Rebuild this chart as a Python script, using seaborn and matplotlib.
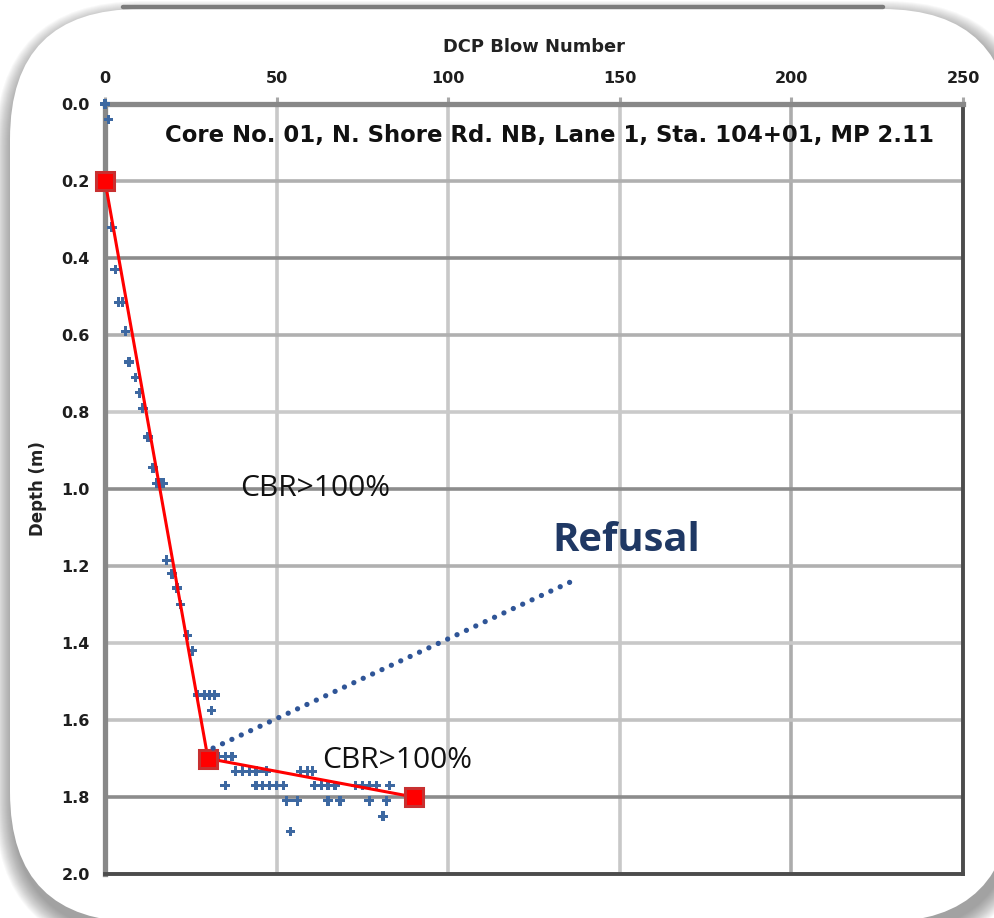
import matplotlib
matplotlib.use("Agg")
import matplotlib.pyplot as plt
import seaborn as sns
from matplotlib.patches import FancyBboxPatch
from matplotlib.lines import Line2D
from matplotlib.ticker import FormatStrFormatter

# ---------------- data ----------------
blows = [0, 1, 2, 3, 4, 5, 6, 7, 9, 10, 11, 12.5, 14, 15, 16, 17,
         18, 19.5, 21, 22, 24, 25.5, 27, 29, 30.5, 32, 31,
         33, 35, 37,
         38, 40, 42, 44, 47, 57, 59, 60.5,
         35, 44, 46, 48, 50, 52, 61, 63, 65, 67, 73, 75, 77, 79, 83,
         53, 56, 65, 68.5, 77, 82,
         81, 54]
depth = [0.00, 0.04, 0.32, 0.43, 0.515, 0.515, 0.59, 0.67, 0.71, 0.75, 0.79, 0.865, 0.945, 0.985, 0.985, 0.985,
         1.185, 1.22, 1.257, 1.30, 1.38, 1.42, 1.535, 1.535, 1.535, 1.535, 1.575,
         1.695, 1.695, 1.695,
         1.733, 1.733, 1.733, 1.733, 1.733, 1.733, 1.733, 1.733,
         1.77, 1.77, 1.77, 1.77, 1.77, 1.77, 1.77, 1.77, 1.77, 1.77, 1.77, 1.77, 1.77, 1.77, 1.77,
         1.81, 1.81, 1.81, 1.81, 1.81, 1.81,
         1.85, 1.89]

layer_blows = [0, 30, 90]
layer_depth = [0.2, 1.7, 1.8]

refusal_blows = [31.5, 135.5]
refusal_depth = [1.673, 1.242]

x_ticks = [0, 50, 100, 150, 200, 250]
y_ticks = [0.0, 0.2, 0.4, 0.6, 0.8, 1.0, 1.2, 1.4, 1.6, 1.8, 2.0]

title_text = "Core No. 01, N. Shore Rd. NB, Lane 1, Sta. 104+01, MP 2.11"
x_label = "DCP Blow Number"
y_label = "Depth (m)"
layer_labels = ["CBR>100%", "CBR>100%"]
label_blows = [61.2, 85.0]
label_depth = [1.0, 1.704]
refusal_label = "Refusal"
refusal_label_pos = (151.8, 1.135)
title_pos = (129.4, 0.083)

# ---------------- style ----------------
sns.set_theme(style="white")
plt.rcParams['font.family'] = ['DejaVu Sans']

W, H = 994, 918
fig = plt.figure(figsize=(W / 100, H / 100), dpi=100)
fig.patch.set_facecolor('white')


def box_in(x0, y0, x1, y1):
    return (x0 / 100, (H - y1) / 100), (x1 - x0) / 100, (y1 - y0) / 100


CARD = (10, 9, 1012, 922)
RAD = 130
# soft shadow layers (offset down/right)
for k in range(18, 0, -1):
    (bx, by), bw, bh = box_in(CARD[0] + 3 - k, CARD[1] + 10 - k, CARD[2] + 3 + k, CARD[3] + 10 + k)
    sh = FancyBboxPatch((bx, by), bw, bh,
                        boxstyle="round,pad=0,rounding_size=%f" % ((RAD + k) / 100),
                        transform=fig.dpi_scale_trans, facecolor='#4a4a4a', edgecolor='none',
                        alpha=0.035, zorder=-20)
    fig.add_artist(sh)

(bx, by), bw, bh = box_in(*CARD)
card = FancyBboxPatch((bx, by), bw, bh, boxstyle="round,pad=0,rounding_size=%f" % (RAD / 100),
                      transform=fig.dpi_scale_trans, facecolor='white', edgecolor='none', zorder=-5)
fig.add_artist(card)
fig.add_artist(Line2D([123 / W, 883 / W], [1 - 7 / H, 1 - 7 / H], transform=fig.transFigure,
                      color='#7c7c7c', lw=3.2, zorder=-4))

ax = fig.add_axes([105 / W, 1 - 874 / H, (963 - 105) / W, (874 - 104) / H])
ax.set_facecolor('white')

# points
sns.scatterplot(x=blows, y=depth, marker='P', s=48, color='#3d68a1', edgecolor='none',
                linewidth=0, ax=ax, zorder=3, clip_on=False, legend=False)

# layer line
sns.lineplot(x=layer_blows, y=layer_depth, sort=False, color='#ff0000', lw=2.2,
             marker='s', markersize=13, markerfacecolor='#ff0000', markeredgecolor='#c83030',
             markeredgewidth=2.2, ax=ax, zorder=4, clip_on=False, legend=False)

# refusal pointer (dotted)
sns.lineplot(x=refusal_blows, y=refusal_depth, sort=False, color='#2f5597', lw=3.8,
             linestyle=(0, (0.01, 1.95)), dash_capstyle='round', ax=ax, zorder=5, legend=False)

ax.set_xlim(0, 250)
ax.set_ylim(2.0, 0.0)
ax.set_xticks(x_ticks)
ax.set_yticks(y_ticks)
ax.yaxis.set_major_formatter(FormatStrFormatter('%.1f'))
ax.xaxis.tick_top()
ax.xaxis.set_label_position('top')

ax.tick_params(axis='both', which='major', direction='out', length=5, width=2.2,
               color='#a8a8a8', labelsize=11.5, labelcolor='#1e1e1e')
ax.tick_params(axis='x', pad=8)
ax.tick_params(axis='y', pad=6)
for lab in ax.get_xticklabels() + ax.get_yticklabels():
    lab.set_fontweight('bold')

ax.grid(True, color='#c6c6c6', lw=2.6)
ax.set_axisbelow(True)
# slight tone variations of gridlines as in the reference
y_grid_colors = ['#c6c6c6', '#b0b0b0', '#8c8c8c', '#b0b0b0', '#cacaca', '#8c8c8c',
                 '#b0b0b0', '#c8c8c8', '#c2c2c2', '#8c8c8c', '#c6c6c6']
for gl, c in zip(ax.yaxis.get_gridlines(), y_grid_colors):
    gl.set_color(c)
x_grid_colors = ['#c6c6c6', '#c8c8c8', '#c8c8c8', '#c8c8c8', '#acacac', '#c6c6c6']
for gl, c in zip(ax.xaxis.get_gridlines(), x_grid_colors):
    gl.set_color(c)

for side in ['top', 'left']:
    ax.spines[side].set_color('#888888')
    ax.spines[side].set_linewidth(3.8)
for side in ['right', 'bottom']:
    ax.spines[side].set_color('#4c4c4c')
    ax.spines[side].set_linewidth(2.8)

ax.set_xlabel(x_label, fontsize=12, fontweight='bold', color='#222222', labelpad=14)
ax.set_ylabel(y_label, fontsize=12, fontweight='bold', color='#222222', labelpad=10)

t_title = ax.text(title_pos[0], title_pos[1], title_text, ha='center', va='center',
                  fontsize=14, fontweight='bold', color='#111111', zorder=6)
t_cbr = [ax.text(bx_, dy_, s, ha='center', va='center', fontsize=20, family='Open Sans',
                 color='#111111', zorder=6)
         for bx_, dy_, s in zip(label_blows, label_depth, layer_labels)]
t_ref = ax.text(refusal_label_pos[0], refusal_label_pos[1], refusal_label, ha='center', va='center',
                fontsize=30, family='Open Sans', fontweight='bold', color='#1f3864', zorder=6)

# fit text widths to the reference
fig.canvas.draw()
r = fig.canvas.get_renderer()


def fit(t, target_w):
    w = t.get_window_extent(r).width
    t.set_fontsize(t.get_fontsize() * target_w / w)


fit(t_title, 768)
for t in t_cbr:
    fit(t, 150)
fit(t_ref, 148)
fit(ax.xaxis.label, 181)

fig.savefig('out.png', dpi=100, facecolor=fig.get_facecolor())
